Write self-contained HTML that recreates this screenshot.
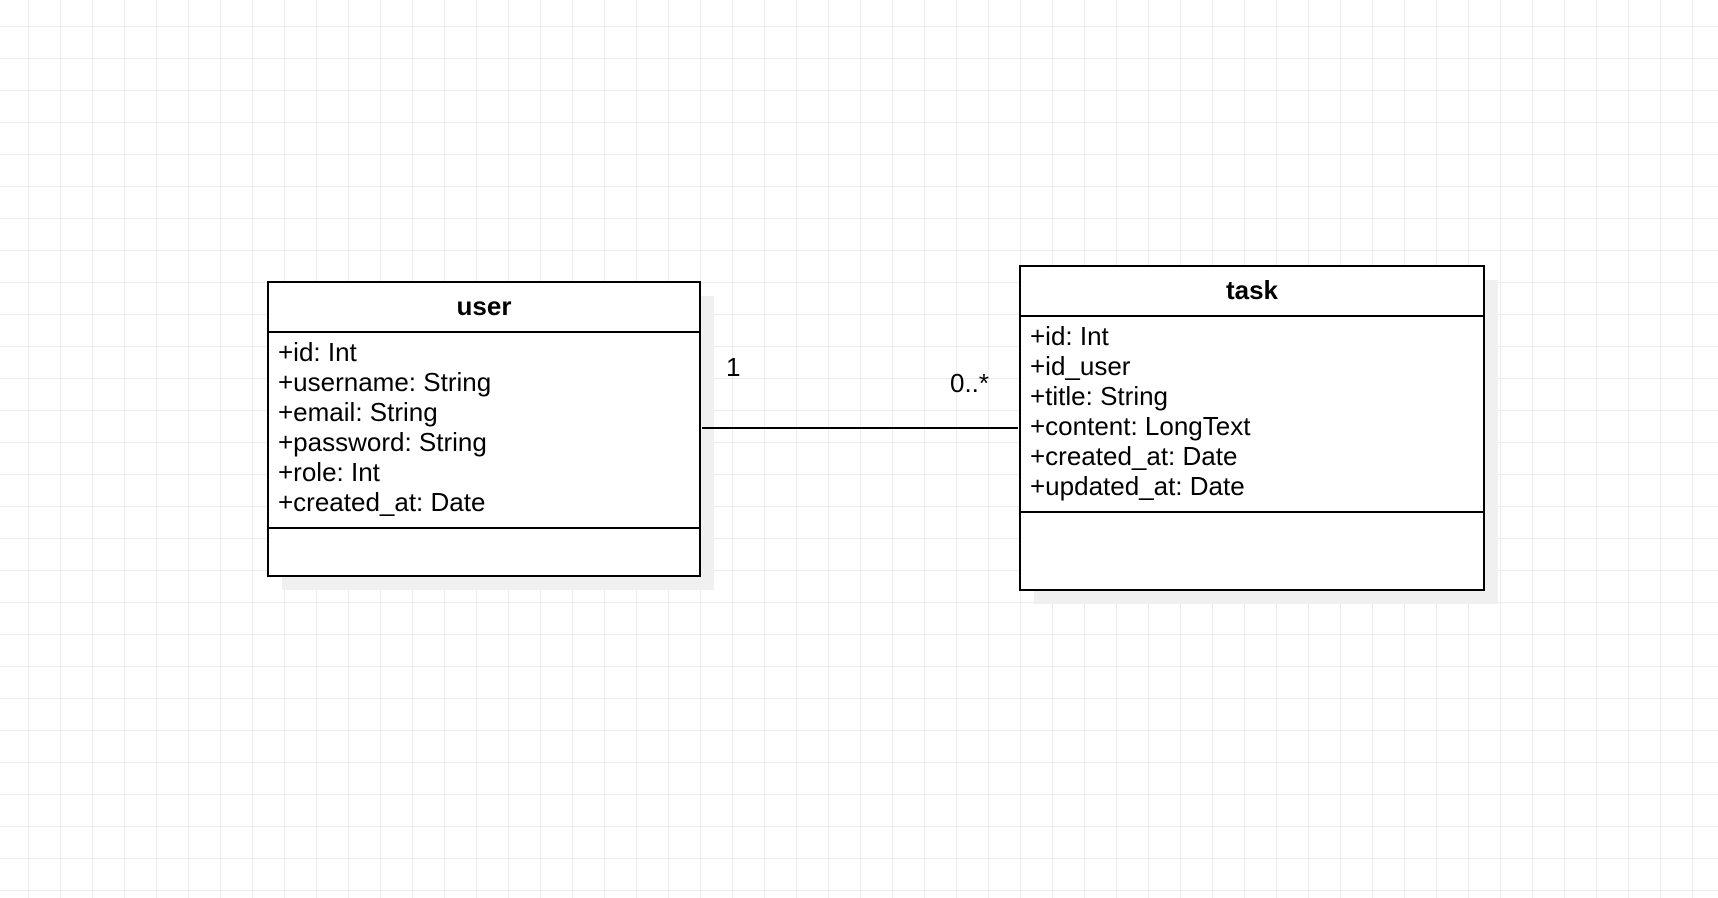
<!DOCTYPE html>
<html><head><style>
body{margin:0;width:1718px;height:898px;overflow:hidden;background:#fff;
background-image:linear-gradient(#ececec 1px,transparent 1px),linear-gradient(90deg,#ececec 1px,transparent 1px);
background-size:32px 32px;background-position:28px 26px;font-family:"Liberation Sans",sans-serif;}
</style></head><body>
<svg width="1718" height="898" style="position:absolute;left:0;top:0" font-family="Liberation Sans, sans-serif">
<rect x="282" y="296" width="432" height="294" fill="#f0f0f0"/>
<rect x="1034" y="280" width="464" height="324" fill="#f0f0f0"/>
<rect x="268" y="282" width="432" height="294" fill="#fff" stroke="#000" stroke-width="2"/>
<line x1="268" y1="332" x2="700" y2="332" stroke="#000" stroke-width="2"/>
<line x1="268" y1="528" x2="700" y2="528" stroke="#000" stroke-width="2"/>
<text x="484" y="315" font-size="26" font-weight="bold" text-anchor="middle">user</text>
<g font-size="26">
<text x="278" y="361">+id: Int</text>
<text x="278" y="391">+username: String</text>
<text x="278" y="421">+email: String</text>
<text x="278" y="451">+password: String</text>
<text x="278" y="481">+role: Int</text>
<text x="278" y="511">+created_at: Date</text>
</g>
<rect x="1020" y="266" width="464" height="324" fill="#fff" stroke="#000" stroke-width="2"/>
<line x1="1020" y1="316" x2="1484" y2="316" stroke="#000" stroke-width="2"/>
<line x1="1020" y1="512" x2="1484" y2="512" stroke="#000" stroke-width="2"/>
<text x="1252" y="299" font-size="26" font-weight="bold" text-anchor="middle">task</text>
<g font-size="26">
<text x="1030" y="345">+id: Int</text>
<text x="1030" y="375">+id_user</text>
<text x="1030" y="405">+title: String</text>
<text x="1030" y="435">+content: LongText</text>
<text x="1030" y="465">+created_at: Date</text>
<text x="1030" y="495">+updated_at: Date</text>
</g>
<line x1="702" y1="428" x2="1018" y2="428" stroke="#000" stroke-width="2"/>
<text x="726" y="376" font-size="26">1</text>
<text x="950" y="392" font-size="26">0..*</text>
</svg>
</body></html>
